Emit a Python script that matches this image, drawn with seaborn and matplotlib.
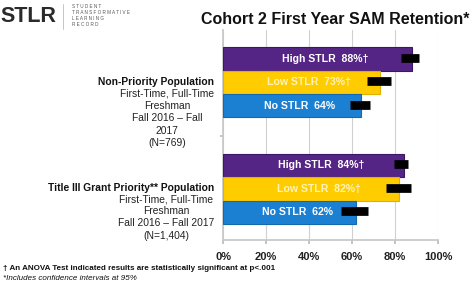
import matplotlib
matplotlib.use("Agg")
import matplotlib.pyplot as plt
import seaborn as sns
import pandas as pd

# ---- data ----
groups = ["Non-Priority Population", "Title III Grant Priority** Population"]
levels = ["High STLR", "Low STLR", "No STLR"]
retention = [[88, 73, 64], [84, 82, 62]]
ci_low = [[83, 67, 59], [79.5, 76, 55]]
ci_high = [[91, 78, 68.5], [86, 87.5, 67.5]]
marks = [["†", "†", ""], ["†", "†", ""]]
group_details = [
    ["First-Time, Full-Time", "Freshman", "Fall 2016 – Fall", "2017", "(N=769)"],
    ["First-Time, Full-Time", "Freshman", "Fall 2016 – Fall 2017", "(N=1,404)"],
]
xticks = [0, 20, 40, 60, 80, 100]
title = "Cohort 2 First Year SAM Retention*"
footnotes = ["† An ANOVA Test indicated results are statistically significant at p<.001",
             "*Includes confidence intervals at 95%"]

colors = ["#552585", "#FFCC00", "#1C80D2"]

rows = []
for gi, g in enumerate(groups):
    for li, lv in enumerate(levels):
        rows.append({"group": g, "level": lv, "value": retention[gi][li]})
df = pd.DataFrame(rows)

sns.set_theme(style="white")
plt.rcParams["font.family"] = ["Liberation Sans", "DejaVu Sans"]

W, H = 472, 281
fig = plt.figure(figsize=(W / 100, H / 100), dpi=100)
ax = fig.add_axes([223 / W, 1 - 240 / H, (438 - 223) / W, (240 - 30) / H])

sns.barplot(data=df, x="value", y="group", hue="level", order=groups,
            hue_order=levels, palette=colors, orient="h", width=0.66,
            ax=ax, legend=False, saturation=1, zorder=3)

ax.set_xlim(0, 100)
ax.set_ylim(1.48, -0.49)

patches = [p for p in ax.patches if p.get_width() > 0]
edge_cols = ["#3E1668", "#E0B000", "#1468B0"]
for li in range(3):
    for gi in range(2):
        p = patches[li * 2 + gi]
        p.set_edgecolor(edge_cols[li])
        p.set_linewidth(0.8)
        yc = p.get_y() + p.get_height() / 2
        v = retention[gi][li]
        ax.hlines(yc - 0.01, ci_low[gi][li], ci_high[gi][li], colors="black",
                  linewidth=6.3, zorder=5)
        txtcol = "white" if li != 1 else "#FFF3B8"
        ax.text(v / 2 + 3.5, yc, f"{levels[li]}  {v}%{marks[gi][li]}",
                ha="center", va="center", color=txtcol, fontsize=7.6,
                fontweight="bold", zorder=6)

ax.set_xticks(xticks)
ax.set_xticklabels([f"{t}%" for t in xticks], fontsize=8, fontweight="bold",
                   color="#222222")
ax.tick_params(axis="x", length=3, color="#BBBBBB", pad=6, bottom=True)
ax.set_yticks([0.5])
ax.set_yticklabels([""])
ax.tick_params(axis="y", length=2, color="#BBBBBB", left=True)
ax.grid(axis="x", color="#D0D0D0", linewidth=0.8, zorder=0)
ax.set_xlabel("")
ax.set_ylabel("")
for s in ["top", "right"]:
    ax.spines[s].set_visible(False)
ax.spines["left"].set_color("#C8C8C8")
ax.spines["bottom"].set_color("#C8C8C8")


def fy(py):
    return 1 - py / H


fig.text(214 / W, fy(82), groups[0], ha="right", va="center", fontsize=7.4,
         fontweight="bold", color="#111111")
for line, py in zip(group_details[0], [94, 105.5, 118, 130.5, 143]):
    fig.text(167 / W, fy(py), line, ha="center", va="center", fontsize=7.4,
             color="#222222")
fig.text(214 / W, fy(188), groups[1], ha="right", va="center", fontsize=7.4,
         fontweight="bold", color="#111111")
for line, py in zip(group_details[1], [199.5, 211.5, 223.5, 236]):
    fig.text(166 / W, fy(py), line, ha="center", va="center", fontsize=7.4,
             color="#222222")

fig.text(335 / W, fy(19), title, ha="center", va="center", fontsize=11.5,
         fontweight="bold", color="#111111")

# logo
fig.text(0 / W, fy(16), "STLR", ha="left", va="center", fontsize=15.5,
         fontweight="bold", color="#2A2A2A")
fig.add_artist(plt.Line2D([63 / W, 63 / W], [fy(4), fy(29)], color="#BBBBBB",
                          linewidth=0.6))
for line, py in zip(["S T U D E N T", "T R A N S F O R M A T I V E",
                     "L E A R N I N G", "R E C O R D"], [6, 12, 18, 24]):
    fig.text(72 / W, fy(py), line, ha="left", va="center", fontsize=3.3,
             color="#555555")

fig.text(3 / W, fy(268), footnotes[0], ha="left", va="center", fontsize=5.8,
         fontweight="bold", color="#111111")
fig.text(3 / W, fy(279), footnotes[1], ha="left", va="center", fontsize=5.8,
         fontstyle="italic", color="#111111")

fig.savefig("out.png", dpi=100)
